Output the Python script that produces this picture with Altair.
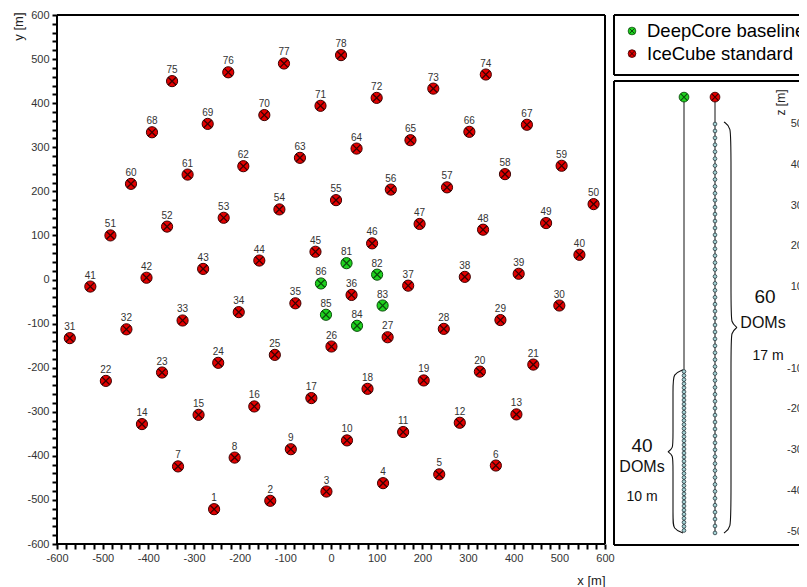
import altair as alt
import pandas as pd

# ---------------- data ----------------
string_id = list(range(1, 79)) + list(range(81, 87))
string_x = [-256, -133, -10, 114, 237, 361, -335, -211, -88, 35,
            158, 282, 406, -414, -290, -168, -43, 80, 203, 326,
            443, -493, -370, -247, -123, 1, 124, 247, 371, 500,
            -572, -448, -325, -202, -78, 45, 169, 293, 411, 544,
            -527, -404, -280, -157, -34, 90, 194, 333, 471, 575,
            -483, -359, -235, -113, 11, 131, 254, 381, 505, -438,
            -314, -192, -68, 56, 174, 303, 429, -392, -270, -146,
            -23, 100, 224, 339, -348, -225, -103, 22,
            34, 101, 113, 57, -11, -22]
string_y = [-521, -502, -481, -462, -442, -422, -424, -404, -385, -365,
            -346, -325, -306, -328, -307, -288, -269, -248, -229, -209,
            -193, -230, -211, -189, -171, -152, -131, -112, -92, -59,
            -133, -113, -93, -74, -54, -35, -14, 6, 13, 56,
            -16, 4, 24, 43, 63, 82, 126, 113, 128, 171,
            100, 120, 140, 159, 180, 204, 209, 239, 258, 217,
            238, 257, 276, 297, 316, 335, 351, 334, 353, 373,
            394, 412, 433, 465, 450, 470, 490, 509,
            37, 11, -59, -105, -80, -9]
categories = ["DeepCore baseline", "IceCube standard"]
string_type = [categories[1]] * 78 + [categories[0]] * 6

fill_colors = ["#1fd21f", "#e30000"]
edge_colors = ["#0b4d0b", "#3a0000"]

# side panel (vertical string view)
panel_string_pos = [70, 101]          # horizontal position of DeepCore / IceCube string
surface_z = 566
ic_n, ic_top, ic_spacing = 60, 500, 17
dc_n, dc_top, dc_spacing = 40, -107, 10
z_ticks = [500, 400, 300, 200, 100, 0, -100, -200, -300, -400, -500]

ann_text = ["60", "DOMs", "17 m", "40", "DOMs", "10 m"]
ann_x = [151, 149, 154, 28, 28, 28]
ann_z = [76, 11, -69, -289, -341, -414]
ann_size = [19, 16, 14, 19, 16, 14]

# brace outlines: (x, z)
brace_ic = [(110, 505), (117, 493), (117, 445), (117, 45), (117, 13), (123, 1), (123, 1),
            (117, -11), (117, -43), (117, -443), (117, -491), (110, -503)]
brace_dc = [(69, -103), (59, -113), (59, -140), (59, -275), (59, -295), (54, -304), (54, -304),
            (59, -313), (59, -333), (59, -470), (59, -493), (69, -503)]

XPATH = "M-0.7,-0.7L0.7,0.7M-0.7,0.7L0.7,-0.7"
FONT = "Liberation Sans"
W, H = 548, 529
RW = 200  # width of the right-hand column (runs past the page edge)

fill_scale = alt.Scale(domain=categories, range=fill_colors)
edge_scale = alt.Scale(domain=categories, range=edge_colors)


def frame(width, height, sides, color="black"):
    """box edges drawn as rules"""
    edges = pd.DataFrame({"e": sides})
    out = []
    spec = {
        "top": dict(x=alt.value(0), x2=alt.value(width), y=alt.value(0)),
        "bottom": dict(x=alt.value(0), x2=alt.value(width), y=alt.value(height)),
        "left": dict(x=alt.value(0), y=alt.value(0), y2=alt.value(height)),
        "right": dict(x=alt.value(width), y=alt.value(0), y2=alt.value(height)),
    }
    for s in sides:
        out.append(alt.Chart(edges).transform_filter(f"datum.e == '{s}'").mark_rule(
            color=color, strokeWidth=2).encode(**spec[s]))
    return out


# ---------------- main map ----------------
df = pd.DataFrame({"id": string_id, "x": string_x, "y": string_y, "type": string_type})

common_axis = dict(values=list(range(-600, 601, 20)),
                   labelExpr="datum.value % 100 === 0 ? '' + datum.value : ''",
                   labelOverlap=False, labelFlush=False, labelBound=False,
                   tickSize=5, tickWidth=2, tickColor="black", ticks=True,
                   domain=False, grid=False, zindex=1,
                   labelFontSize=11, labelColor="#333", labelPadding=3, labelFont=FONT,
                   titleFontSize=13, titleFontWeight="normal", titleFont=FONT, titleColor="#222")
xaxis = alt.Axis(title="x [m]", titleX=W, titleY=36, titleAlign="right",
                 titleBaseline="middle", **common_axis)
yaxis = alt.Axis(title="y [m]", titleAngle=270, titleX=-45, titleY=-3,
                 titleAlign="right", titleBaseline="top", **common_axis)

base = alt.Chart(df).encode(
    x=alt.X("x:Q", scale=alt.Scale(domain=[-600, 600], nice=False, zero=False), axis=xaxis),
    y=alt.Y("y:Q", scale=alt.Scale(domain=[-600, 600], nice=False, zero=False), axis=yaxis),
)
circles = base.mark_point(shape="circle", filled=True, size=125, strokeWidth=1, opacity=1).encode(
    fill=alt.Fill("type:N", scale=fill_scale, legend=None),
    stroke=alt.Stroke("type:N", scale=edge_scale, legend=None),
)
crosses = base.mark_point(shape=XPATH, filled=False, size=125, strokeWidth=1.3, opacity=1).encode(
    stroke=alt.Stroke("type:N", scale=edge_scale, legend=None),
)
labels = base.mark_text(dy=-11, fontSize=10, color="#333", font=FONT).encode(text="id:N")
main = alt.layer(circles, crosses, labels, *frame(W, H, ["top", "bottom", "left", "right"])).properties(
    width=W, height=H)

# ---------------- legend box ----------------
leg = pd.DataFrame({"type": categories, "row": [0, 1]})
ly = alt.Y("row:Q", scale=alt.Scale(domain=[-0.708, 1.947], reverse=True, nice=False, zero=False), axis=None)
lbase = alt.Chart(leg).encode(y=ly)
leg_c = lbase.mark_point(shape="circle", filled=True, size=60, strokeWidth=0.8, opacity=1).encode(
    x=alt.value(18),
    fill=alt.Fill("type:N", scale=fill_scale, legend=None),
    stroke=alt.Stroke("type:N", scale=edge_scale, legend=None))
leg_x = lbase.mark_point(shape=XPATH, filled=False, size=60, strokeWidth=1, opacity=1).encode(
    x=alt.value(18), stroke=alt.Stroke("type:N", scale=edge_scale, legend=None))
leg_t = lbase.mark_text(align="left", baseline="middle", fontSize=18.5, font=FONT, color="black").encode(
    x=alt.value(33), text="type:N")
legend_box = alt.layer(leg_c, leg_x, leg_t, *frame(RW, 60, ["top", "left", "bottom"])).properties(
    width=RW, height=60)

# ---------------- side panel ----------------
xs = alt.Scale(domain=[0, RW], nice=False, zero=False)
zs = alt.Scale(domain=[-532.6, 605.5], nice=False, zero=False)
zaxis = alt.Axis(orient="left", offset=-197, labels=False, domain=False, ticks=False, grid=False,
                 title="z [m]", titleFont=FONT, titleFontSize=12, titleFontWeight="normal",
                 titleColor="#222", titleAngle=270, titleX=-36, titleY=8,
                 titleAlign="right", titleBaseline="top")

ic_z = [ic_top - ic_spacing * i for i in range(ic_n)]
dc_z = [dc_top - dc_spacing * i for i in range(dc_n)]
doms = pd.DataFrame({"x": [panel_string_pos[1]] * ic_n + [panel_string_pos[0]] * dc_n,
                     "z": ic_z + dc_z})
lines = pd.DataFrame({"x": panel_string_pos, "z_top": [surface_z, surface_z],
                      "z_bot": [dc_z[-1], ic_z[-1]], "type": categories})
tops = pd.DataFrame({"x": panel_string_pos, "z": [surface_z, surface_z], "type": categories})
brace_rows = []
for bid, pts in (("ic", brace_ic), ("dc", brace_dc)):
    for k, (bx, bz) in enumerate(pts):
        brace_rows.append({"brace": bid, "order": k, "x": bx, "z": bz})
braces = pd.DataFrame(brace_rows)
ann = pd.DataFrame({"t": ann_text, "x": ann_x, "z": ann_z, "fs": ann_size})
zlab = pd.DataFrame({"z": z_ticks, "t": [str(v) for v in z_ticks]})


def X():
    return alt.X("x:Q", scale=xs, axis=None)


def Z(f="z"):
    return alt.Y(f"{f}:Q", scale=zs, axis=zaxis)


str_lines = alt.Chart(lines).mark_rule().encode(
    x=X(), y=Z("z_top"), y2="z_bot",
    color=alt.Color("type:N", scale=alt.Scale(domain=categories, range=["#888888", "#111111"]), legend=None),
    strokeWidth=alt.StrokeWidth("type:N", scale=alt.Scale(domain=categories, range=[2, 1]), legend=None))
dom_pts = alt.Chart(doms).mark_point(shape="circle", filled=True, size=14, fill="#a6d4d6",
                                     stroke="#2a3a40", strokeWidth=0.8, opacity=1).encode(x=X(), y=Z())
top_c = alt.Chart(tops).mark_point(shape="circle", filled=True, size=95, strokeWidth=0.9, opacity=1).encode(
    x=X(), y=Z(),
    fill=alt.Fill("type:N", scale=fill_scale, legend=None),
    stroke=alt.Stroke("type:N", scale=edge_scale, legend=None))
top_x = alt.Chart(tops).mark_point(shape=XPATH, filled=False, size=95, strokeWidth=1.1, opacity=1).encode(
    x=X(), y=Z(), stroke=alt.Stroke("type:N", scale=edge_scale, legend=None))
brace_l = alt.Chart(braces).mark_line(interpolate="basis", color="#111", strokeWidth=1.1).encode(
    x=X(), y=Z(), detail="brace:N", order="order:Q")
ann_t = alt.Chart(ann).mark_text(font=FONT, color="#111", baseline="middle", align="center").encode(
    x=X(), y=Z(), text="t:N", size=alt.Size("fs:Q", scale=None, legend=None))
z_labels = alt.Chart(zlab).mark_text(font=FONT, fontSize=11, color="#333", align="right",
                                     baseline="middle").encode(
    x=alt.value(195), y=Z(), text="t:N")

panel = alt.layer(str_lines, brace_l, dom_pts, top_c, top_x, ann_t, z_labels,
                  *frame(RW, 464, ["top", "left", "bottom"])).properties(width=RW, height=464)

right = alt.vconcat(legend_box, panel, spacing=6, bounds="flush")

chart = alt.hconcat(main, right, spacing=9, bounds="flush").configure(
    font=FONT).configure_view(stroke=None).properties(
    autosize=alt.AutoSizeParams(type="none"),
    padding={"left": 49, "top": 7, "right": 742, "bottom": 572})

chart.save("out.html", embed_options={"renderer": "svg", "actions": False})
